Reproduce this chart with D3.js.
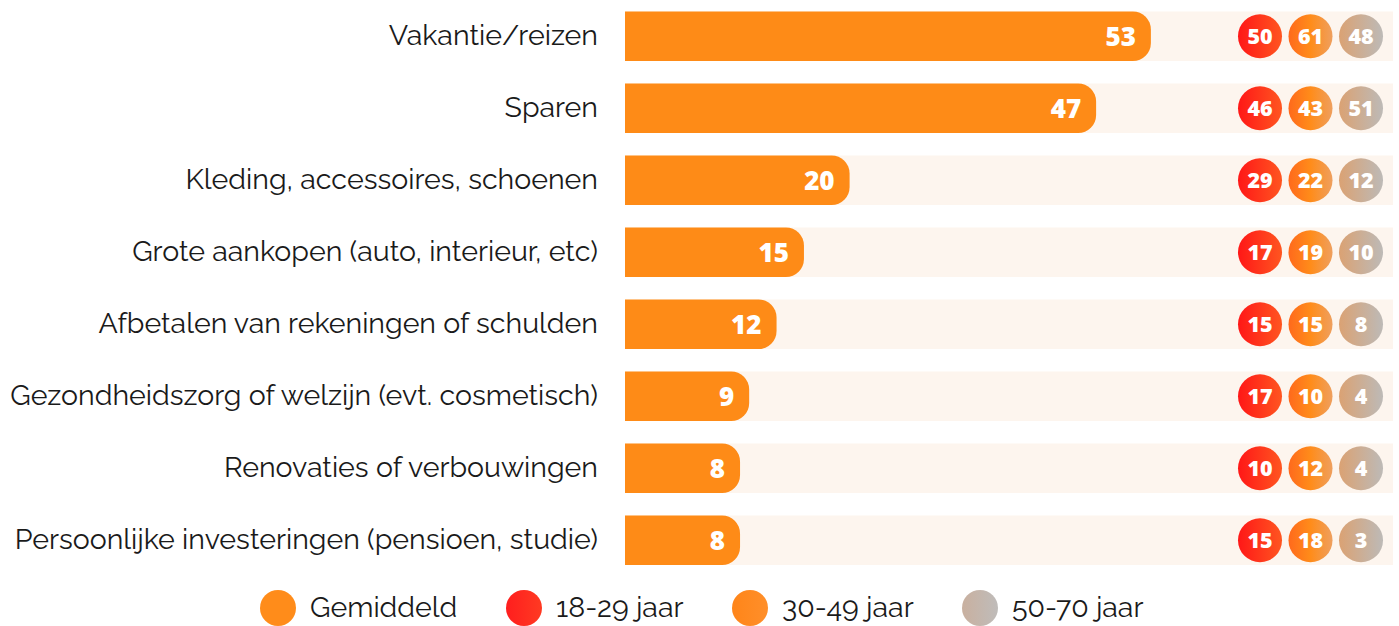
<!DOCTYPE html>
<html><head><meta charset="utf-8">
<script src="https://cdn.jsdelivr.net/npm/d3@7"></script>
<style>
html,body{margin:0;padding:0;background:#fff;}
svg{display:block;}
</style></head>
<body>
<svg id="chart" width="1399" height="626"></svg>
<script>
const categories = [
  "Vakantie/reizen",
  "Sparen",
  "Kleding, accessoires, schoenen",
  "Grote aankopen (auto, interieur, etc)",
  "Afbetalen van rekeningen of schulden",
  "Gezondheidszorg of welzijn (evt. cosmetisch)",
  "Renovaties of verbouwingen",
  "Persoonlijke investeringen (pensioen, studie)"
];
const gemiddeld = [53, 47, 20, 15, 12, 9, 8, 8];
const age18_29 = [50, 46, 29, 17, 15, 17, 10, 15];
const age30_49 = [61, 43, 22, 19, 15, 10, 12, 18];
const age50_70 = [48, 51, 12, 10, 8, 4, 4, 3];
const groups = ["18-29 jaar", "30-49 jaar", "50-70 jaar"];
const legendLabels = ["Gemiddeld", "18-29 jaar", "30-49 jaar", "50-70 jaar"];

const svg = d3.select("#chart");
const defs = svg.append("defs");

const labelFont = "'Raleway','Lato','Open Sans',sans-serif";
const numFont = "'Open Sans','Lato',sans-serif";

const barX0 = 625, bandRight = 1393;
const y = d3.scaleBand().domain(categories).range([11.5, 565]).paddingInner(0.3125).paddingOuter(0);
const x = d3.scaleLinear().domain([0, 60]).range([barX0 + 42, barX0 + 42 + 9.13 * 60]);
const cx = d3.scalePoint().domain(groups).range([1260, 1361]);
const r = 22;

const g1 = defs.append("linearGradient").attr("id", "ageGrad")
  .attr("gradientUnits", "userSpaceOnUse").attr("x1", 1238).attr("x2", 1383).attr("y1", 0).attr("y2", 0);
[[0, "#ff1717"], [0.30, "#ff5520"], [0.36, "#ff6c1c"], [0.5, "#ff8c1a"], [0.655, "#eea060"], [0.70, "#daa274"], [1, "#bdbab7"]]
  .forEach(([o, c]) => g1.append("stop").attr("offset", o).attr("stop-color", c));

const lg = [
  ["lg0", [["0", "#ff8c1a"], ["1", "#ff8c1a"]]],
  ["lg1", [["0", "#ff1e1e"], ["1", "#ff3a22"]]],
  ["lg2", [["0", "#ff8519"], ["1", "#ff8f2a"]]],
  ["lg3", [["0", "#c9b09f"], ["1", "#bfbcba"]]]
];
lg.forEach(([id, stops]) => {
  const g = defs.append("linearGradient").attr("id", id).attr("x1", 0).attr("x2", 1).attr("y1", 0).attr("y2", 0);
  stops.forEach(([o, c]) => g.append("stop").attr("offset", o).attr("stop-color", c));
});

const rows = svg.append("g").selectAll("g").data(categories).join("g")
  .attr("transform", d => `translate(0,${y(d)})`);
const bh = y.bandwidth();

rows.append("rect").attr("x", barX0).attr("y", 0).attr("width", bandRight - barX0).attr("height", bh)
  .attr("fill", "#fdf5ee");

function barPath(w, h, rr) {
  return `M0,0 H${w - rr} A${rr},${rr} 0 0 1 ${w},${rr} V${h - rr} A${rr},${rr} 0 0 1 ${w - rr},${h} H0 Z`;
}
rows.append("path")
  .attr("transform", `translate(${barX0},0)`)
  .attr("d", (d, i) => barPath(x(gemiddeld[i]) - barX0, bh, 18))
  .attr("fill", "#fe8b17");

rows.append("text").attr("class", "barval")
  .attr("x", (d, i) => x(gemiddeld[i]) - 15)
  .attr("y", bh / 2 + 9.5)
  .attr("text-anchor", "end")
  .attr("font-family", numFont).attr("font-weight", 800).attr("font-size", 26)
  .attr("fill", "#fff")
  .text((d, i) => gemiddeld[i]);

rows.append("text").attr("class", "cat")
  .attr("x", 598).attr("y", bh / 2 + 9)
  .attr("text-anchor", "end")
  .attr("font-family", labelFont).attr("font-size", 25.5).attr("fill", "#1a1a1a")
  .text(d => d);

const ageData = [age18_29, age30_49, age50_70];
groups.forEach((gname, gi) => {
  rows.append("circle").attr("cx", cx(gname)).attr("cy", bh / 2).attr("r", r).attr("fill", "url(#ageGrad)");
  rows.append("text")
    .attr("x", cx(gname)).attr("y", bh / 2 + 7.5)
    .attr("text-anchor", "middle")
    .attr("font-family", numFont).attr("font-weight", 800).attr("font-size", 21.5)
    .attr("fill", "#fff")
    .text((d, i) => ageData[gi][i]);
});

const legendX = [278, 524, 750, 980];
const leg = svg.append("g").selectAll("g").data(legendLabels).join("g")
  .attr("transform", (d, i) => `translate(${legendX[i]},608)`);
leg.append("circle").attr("r", 18).attr("fill", (d, i) => `url(#lg${i})`);
leg.append("text").attr("x", 32).attr("y", 9)
  .attr("font-family", labelFont).attr("font-size", 25.5).attr("fill", "#1a1a1a")
  .text(d => d);

const labels = rows.selectAll("text.cat");
let maxW = 0;
labels.each(function(){ maxW = Math.max(maxW, this.getComputedTextLength()); });
if (maxW > 0) {
  const fs = 25.5 * 588 / maxW;
  labels.attr("font-size", fs);
  leg.selectAll("text").attr("font-size", fs);
}
</script>
</body></html>
